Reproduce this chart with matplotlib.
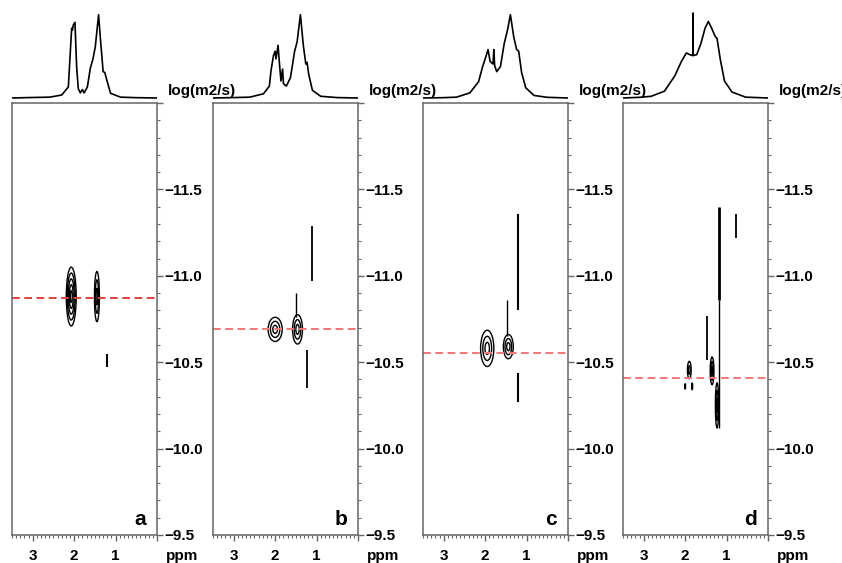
import matplotlib.pyplot as plt
from matplotlib.patches import Ellipse
from matplotlib.ticker import FixedLocator, MultipleLocator

plt.rcParams['font.family'] = ['Liberation Sans', 'DejaVu Sans']
plt.rcParams['font.weight'] = 'bold'

# 1D spectra (ppm, relative intensity)
spec_a_ppm = [3.5, 3.1, 2.8, 2.59, 2.3, 2.14, 2.11, 2.06, 2.04, 2.02, 1.98, 1.97, 1.94, 1.9, 1.85,
              1.8, 1.76, 1.68, 1.61, 1.55, 1.49, 1.41, 1.37, 1.3, 1.26, 1.2, 1.12, 0.88, 0.5, 0.0]
spec_a_int = [0.0, 0.005, 0.008, 0.01, 0.035, 0.13, 0.39, 0.82, 0.80, 0.86, 0.89, 0.76, 0.37, 0.11, 0.06,
              0.10, 0.06, 0.13, 0.35, 0.45, 0.6, 0.98, 0.72, 0.31, 0.30, 0.19, 0.055, 0.01, 0.004, 0.0]

spec_b_ppm = [3.5, 3.0, 2.61, 2.28, 2.14, 2.1, 2.04, 2.0, 1.98, 1.93, 1.9, 1.86, 1.82, 1.8, 1.73,
              1.63, 1.53, 1.47, 1.39, 1.32, 1.26, 1.23, 1.19, 1.1, 0.9, 0.5, 0.0]
spec_b_int = [0.0, 0.005, 0.01, 0.05, 0.14, 0.32, 0.5, 0.55, 0.46, 0.62, 0.43, 0.2, 0.34, 0.17, 0.14,
              0.24, 0.55, 0.66, 0.98, 0.62, 0.4, 0.42, 0.28, 0.09, 0.02, 0.005, 0.0]

spec_c_ppm = [3.5, 3.0, 2.69, 2.37, 2.16, 2.06, 1.98, 1.93, 1.88, 1.81, 1.79, 1.77, 1.72, 1.63,
              1.54, 1.46, 1.39, 1.31, 1.24, 1.19, 1.12, 1.02, 0.82, 0.5, 0.0]
spec_c_int = [0.0, 0.004, 0.01, 0.06, 0.19, 0.37, 0.49, 0.57, 0.43, 0.40, 0.57, 0.38, 0.31, 0.37,
              0.64, 0.80, 0.98, 0.72, 0.57, 0.55, 0.30, 0.12, 0.03, 0.008, 0.0]

spec_d_ppm = [3.5, 3.1, 2.82, 2.5, 2.25, 2.09, 1.97, 1.89, 1.83, 1.815, 1.81, 1.805, 1.8, 1.72,
              1.62, 1.52, 1.44, 1.36, 1.28, 1.23, 1.15, 1.05, 0.87, 0.54, 0.0]
spec_d_int = [0.0, 0.008, 0.02, 0.08, 0.26, 0.43, 0.53, 0.51, 0.50, 0.50, 1.0, 0.50, 0.50, 0.51,
              0.64, 0.82, 0.90, 0.82, 0.73, 0.70, 0.45, 0.20, 0.07, 0.01, 0.0]

# DOSY cross peaks: ppm, log D, full width (ppm), full height (log D), rings
blobs_a = [(2.07, -10.88, 0.24, 0.34, 5), (1.45, -10.88, 0.12, 0.29, 3)]
blobs_b = [(2.00, -10.69, 0.34, 0.14, 3), (1.46, -10.69, 0.24, 0.17, 3)]
blobs_c = [(1.95, -10.58, 0.32, 0.21, 3), (1.44, -10.59, 0.24, 0.14, 3)]
blobs_d = [(1.90, -10.455, 0.09, 0.10, 2), (1.35, -10.45, 0.09, 0.16, 3),
           (1.23, -10.25, 0.08, 0.26, 3), (2.00, -10.36, 0.02, 0.03, 1), (1.83, -10.36, 0.02, 0.04, 1)]

# thin streaks: ppm, log D start, log D end, line width
sticks_a = [(1.21, -10.55, -10.47, 1.5)]
sticks_b = [(1.50, -10.90, -10.76, 1.0), (1.22, -10.57, -10.35, 1.3), (1.12, -11.29, -10.97, 1.3)]
sticks_c = [(1.48, -10.86, -10.65, 1.0), (1.20, -11.36, -10.80, 1.5), (1.20, -10.44, -10.27, 1.5)]
sticks_d = [(1.47, -10.77, -10.51, 1.3), (1.18, -11.40, -10.86, 2.0), (1.19, -10.86, -10.12, 1.0),
            (0.77, -11.36, -11.22, 1.3)]

# red dashed line (log D of the average)
ref_lines = [-10.87, -10.69, -10.555, -10.41]
ref_colors = ['#d9433a', '#f07878', '#f07878', '#f07878']

labels = ['a', 'b', 'c', 'd']
specs = [(spec_a_ppm, spec_a_int), (spec_b_ppm, spec_b_int),
         (spec_c_ppm, spec_c_int), (spec_d_ppm, spec_d_int)]
blobs = [blobs_a, blobs_b, blobs_c, blobs_d]
sticks = [sticks_a, sticks_b, sticks_c, sticks_d]

W, H = 842, 563
lefts = [12, 213, 423, 623]
box_w = 145

fig = plt.figure(figsize=(W / 100, H / 100), dpi=100)

for i in range(4):
    L = lefts[i]
    ax = fig.add_axes([L / W, (H - 535) / H, box_w / W, 432 / H])
    sp = fig.add_axes([L / W, (H - 100) / H, box_w / W, 90 / H])

    # top spectrum
    sp.plot(specs[i][0], specs[i][1], color='black', lw=1.2)
    sp.set_xlim(3.5, 0)
    sp.set_ylim(-0.0235, 1.035)
    sp.axis('off')

    # 2D map
    for (x, y, w, h, n) in blobs[i]:
        for k in range(n):
            s = 1.0 - k / n
            ax.add_patch(Ellipse((x, y), w * s, h * s, fill=False, ec='black', lw=1.0))
    for (x, y0, y1, lw) in sticks[i]:
        ax.plot([x, x], [y0, y1], color='black', lw=lw, solid_capstyle='butt')
    ax.axhline(ref_lines[i], color=ref_colors[i], lw=1.4, linestyle=(0, (4, 2.3)))

    ax.set_xlim(3.5, 0)
    ax.set_ylim(-9.5, -12.0)
    ax.yaxis.tick_right()
    ax.yaxis.set_major_locator(FixedLocator([-12.0, -11.5, -11.0, -10.5, -10.0, -9.5]))
    ax.set_yticklabels(['', '\u221211.5', '\u221211.0', '\u221210.5', '\u221210.0', '\u22129.5'])
    ax.yaxis.set_minor_locator(MultipleLocator(0.1))
    ax.xaxis.set_major_locator(FixedLocator([3, 2, 1, 0]))
    ax.set_xticklabels(['3', '2', '1', ''])
    ax.xaxis.set_minor_locator(MultipleLocator(0.1))
    ax.tick_params(axis='both', which='major', length=4, width=1.0, color='#666666',
                   labelsize=11, direction='out')
    ax.tick_params(axis='both', which='minor', length=2, width=0.8, color='#666666', direction='out')
    ax.tick_params(axis='y', which='major', pad=1.5)
    ax.tick_params(axis='x', which='major', pad=6)
    for s in ax.spines.values():
        s.set_color('#666666')
        s.set_linewidth(1.1)

    ax.text(0.925, 0.015, labels[i], transform=ax.transAxes, ha='right', va='bottom',
            fontsize=15, fontweight='bold')
    ax.text(1.076, 1.0185, 'log(m2/s)', transform=ax.transAxes, ha='left', va='baseline',
            fontsize=11, fontweight='bold', clip_on=False)
    ax.text(1.062, -0.058, 'ppm', transform=ax.transAxes, ha='left', va='baseline',
            fontsize=11, fontweight='bold')

fig.savefig('out.png', dpi=100)
